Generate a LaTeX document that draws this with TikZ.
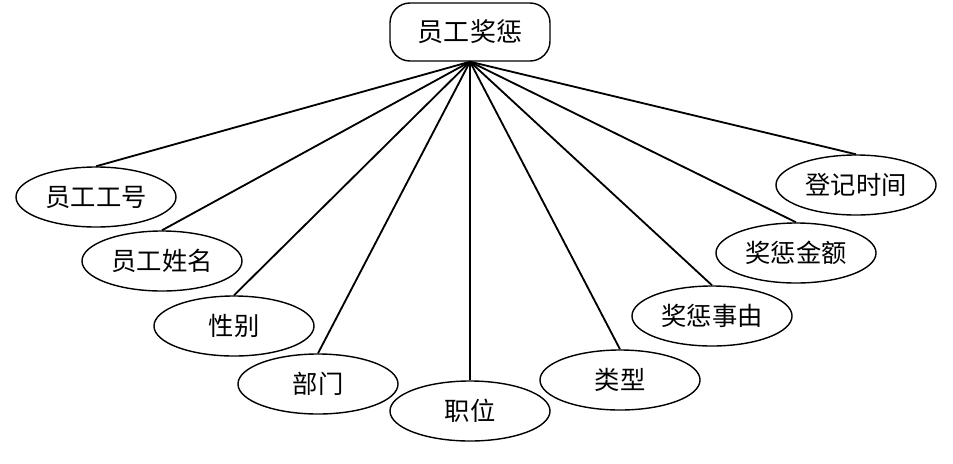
\documentclass[tikz,border=0pt]{standalone}
\usepackage{fontspec}
\newfontfamily\cjk{Noto Sans CJK SC}
\usetikzlibrary{shapes.geometric}

\begin{document}
\begin{tikzpicture}[x=0.025cm, y=-0.025cm,
		attr/.style={ellipse, draw, line width=1pt, minimum width=4cm, minimum height=1.5cm, inner sep=0pt, font=\cjk\fontsize{18}{21}\selectfont},
		entity/.style={rectangle, rounded corners=0.5cm, draw, line width=1pt, minimum width=4cm, minimum height=1.45cm, inner sep=0pt, font=\cjk\fontsize{18.5}{22}\selectfont},
		link/.style={line width=1.3pt}]
		% Fix the page size
		\useasboundingbox (0,0) rectangle (953,463);

		% Draw entity
		\node[entity] (jc) at (470,32) {员工奖惩};

		% Draw attributes
		\node[attr] (gh) at (96,197) {员工工号};
		\node[attr] (xm) at (162,261) {员工姓名};
		\node[attr] (xb) at (234,326) {性别};
		\node[attr] (bm) at (318,384) {部门};
		\node[attr] (zw) at (470,411) {职位};
		\node[attr] (lx) at (620,380) {类型};
		\node[attr] (sy) at (712,316) {奖惩事由};
		\node[attr] (je) at (796,253) {奖惩金额};
		\node[attr] (sj) at (856,185) {登记时间};

		% Draw links
		\foreach \a in {gh,xm,xb,bm,zw,lx,sy,je,sj}
			\draw[link] (jc.south) -- (\a.north);
	\end{tikzpicture}
\end{document}
